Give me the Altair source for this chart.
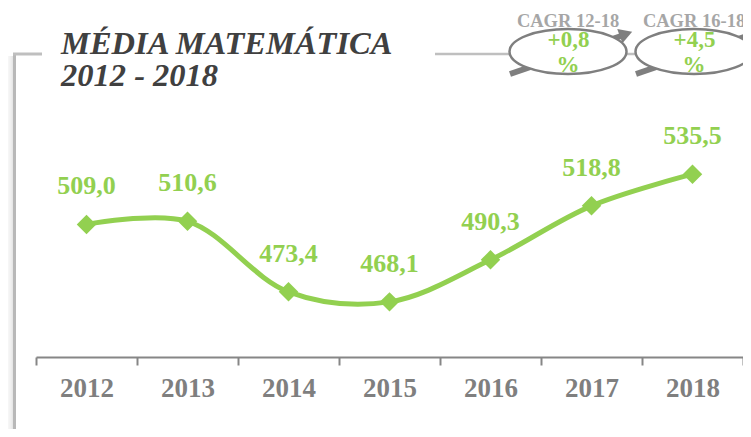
import altair as alt
import pandas as pd

# ---- data ----
years = [2012, 2013, 2014, 2015, 2016, 2017, 2018]
values = [509.0, 510.6, 473.4, 468.1, 490.3, 518.8, 535.5]
value_labels = ["509,0", "510,6", "473,4", "468,1", "490,3", "518,8", "535,5"]
tick_values = [2011.5, 2012.5, 2013.5, 2014.5, 2015.5, 2016.5, 2017.5, 2018.5]
title_lines = ["MÉDIA MATEMÁTICA", "2012 - 2018"]
cagr_titles = ["CAGR 12-18", "CAGR 16-18"]
cagr_values = ["+0,8", "+4,5"]
cagr_units = ["%", "%"]

df = pd.DataFrame({"year": years, "value": values, "label": value_labels})

GREEN = "#92d050"
GRAY = "#7f7f7f"
FONT = "Liberation Serif"

W, H = 707, 305

x_scale = alt.Scale(domain=[2011.5, 2018.5], nice=False, zero=False)
y_scale = alt.Scale(domain=[439, 600], nice=False, zero=False)

x_axis = alt.Axis(
    values=tick_values,
    labelExpr="datum.value > 2018 ? '' : toString(datum.value + 0.5)",
    labelOffset=50.5,
    labelFlush=False,
    labelOverlap=False,
    labelBound=False,
    grid=False,
    title=None,
    domainColor="#868686",
    domainWidth=2,
    tickColor="#868686",
    tickWidth=2,
    tickSize=8,
    labelFont=FONT,
    labelFontSize=27,
    labelFontWeight="bold",
    labelColor=GRAY,
    labelPadding=10,
)

base = alt.Chart(df).encode(
    x=alt.X("year:Q", scale=x_scale, axis=x_axis),
    y=alt.Y("value:Q", scale=y_scale, axis=None),
)

line = base.mark_line(color=GREEN, strokeWidth=5, interpolate="catmull-rom")
pts = base.mark_point(shape="diamond", size=380, filled=True, color=GREEN, opacity=1)
lbl = base.mark_text(
    font=FONT, fontSize=26, fontWeight="bold", color=GREEN, baseline="alphabetic", dy=-30
).encode(text="label:N")

layers = []

# frame: left vertical line with shadow, top segments
for off, op in [(-8, 0.04), (-6, 0.07), (-4, 0.12), (-2, 0.2)]:
    layers.append(
        alt.Chart(pd.DataFrame({"k": [0]})).mark_rule(color="#808080", strokeWidth=2, opacity=op)
        .encode(x=alt.value(-21.5 + off), y=alt.value(4), y2=alt.value(400))
    )
layers.append(
    alt.Chart(pd.DataFrame({"k": [0]})).mark_rule(color="#b8b8b8", strokeWidth=3)
    .encode(x=alt.value(-21.5), y=alt.value(1), y2=alt.value(400))
)
layers.append(
    alt.Chart(pd.DataFrame({"k": [0]})).mark_rule(color="#bfbfbf", strokeWidth=3)
    .encode(x=alt.value(-23), x2=alt.value(6), y=alt.value(2))
)
layers.append(
    alt.Chart(pd.DataFrame({"k": [0]})).mark_rule(color="#bfbfbf", strokeWidth=2.5)
    .encode(x=alt.value(399), x2=alt.value(720), y=alt.value(2))
)

# title
layers.append(
    alt.Chart(pd.DataFrame({"t": [title_lines[0]]})).mark_text(
        font=FONT, fontSize=32.5, fontWeight="bold", fontStyle="italic", color="#404040",
        align="left", baseline="alphabetic"
    ).encode(text="t:N", x=alt.value(25), y=alt.value(2))
)
layers.append(
    alt.Chart(pd.DataFrame({"t": [title_lines[1]]})).mark_text(
        font=FONT, fontSize=32.5, fontWeight="bold", fontStyle="italic", color="#404040",
        align="left", baseline="alphabetic"
    ).encode(text="t:N", x=alt.value(25), y=alt.value(34))
)

# CAGR badges
ELLIPSE = "M-1,0A1,0.385,0,1,1,1,0A1,0.385,0,1,1,-1,0Z"
for i, cx in enumerate([532, 658]):
    one = pd.DataFrame({"t": [cagr_titles[i]], "v": [cagr_values[i]], "u": [cagr_units[i]]})
    layers.append(
        alt.Chart(one).mark_rule(color=GRAY, strokeWidth=6)
        .encode(x=alt.value(cx - 58), y=alt.value(22), x2=alt.value(cx + 56), y2=alt.value(-17))
    )
    layers.append(
        alt.Chart(one).mark_point(shape="triangle-right", size=230, filled=True, color=GRAY,
                                  opacity=1, angle=340)
        .encode(x=alt.value(cx + 58), y=alt.value(-18))
    )
    layers.append(
        alt.Chart(one).mark_point(shape=ELLIPSE, size=117 * 117, fill="white", stroke=GRAY,
                                  strokeWidth=2.5, opacity=1, fillOpacity=1, strokeOpacity=1)
        .encode(x=alt.value(cx), y=alt.value(-0.5))
    )
    layers.append(
        alt.Chart(one).mark_text(font=FONT, fontSize=18.5, fontWeight="bold", color="#a6a6a6",
                                 baseline="alphabetic")
        .encode(text="t:N", x=alt.value(cx), y=alt.value(-25))
    )
    layers.append(
        alt.Chart(one).mark_text(font=FONT, fontSize=23, fontWeight="bold", color=GREEN,
                                 baseline="alphabetic")
        .encode(text="v:N", x=alt.value(cx + 0.5), y=alt.value(-5))
    )
    layers.append(
        alt.Chart(one).mark_text(font=FONT, fontSize=23, fontWeight="bold", color=GREEN,
                                 baseline="alphabetic")
        .encode(text="u:N", x=alt.value(cx), y=alt.value(20))
    )

chart = alt.layer(line, pts, lbl, *layers).properties(
    width=W, height=H,
    autosize=alt.AutoSizeParams(type="none"),
    padding={"left": 28, "top": 44, "right": 0, "bottom": 72},
    background="white",
).configure_view(stroke=None)

chart.save("out.html", embed_options={"renderer": "svg", "actions": False})
